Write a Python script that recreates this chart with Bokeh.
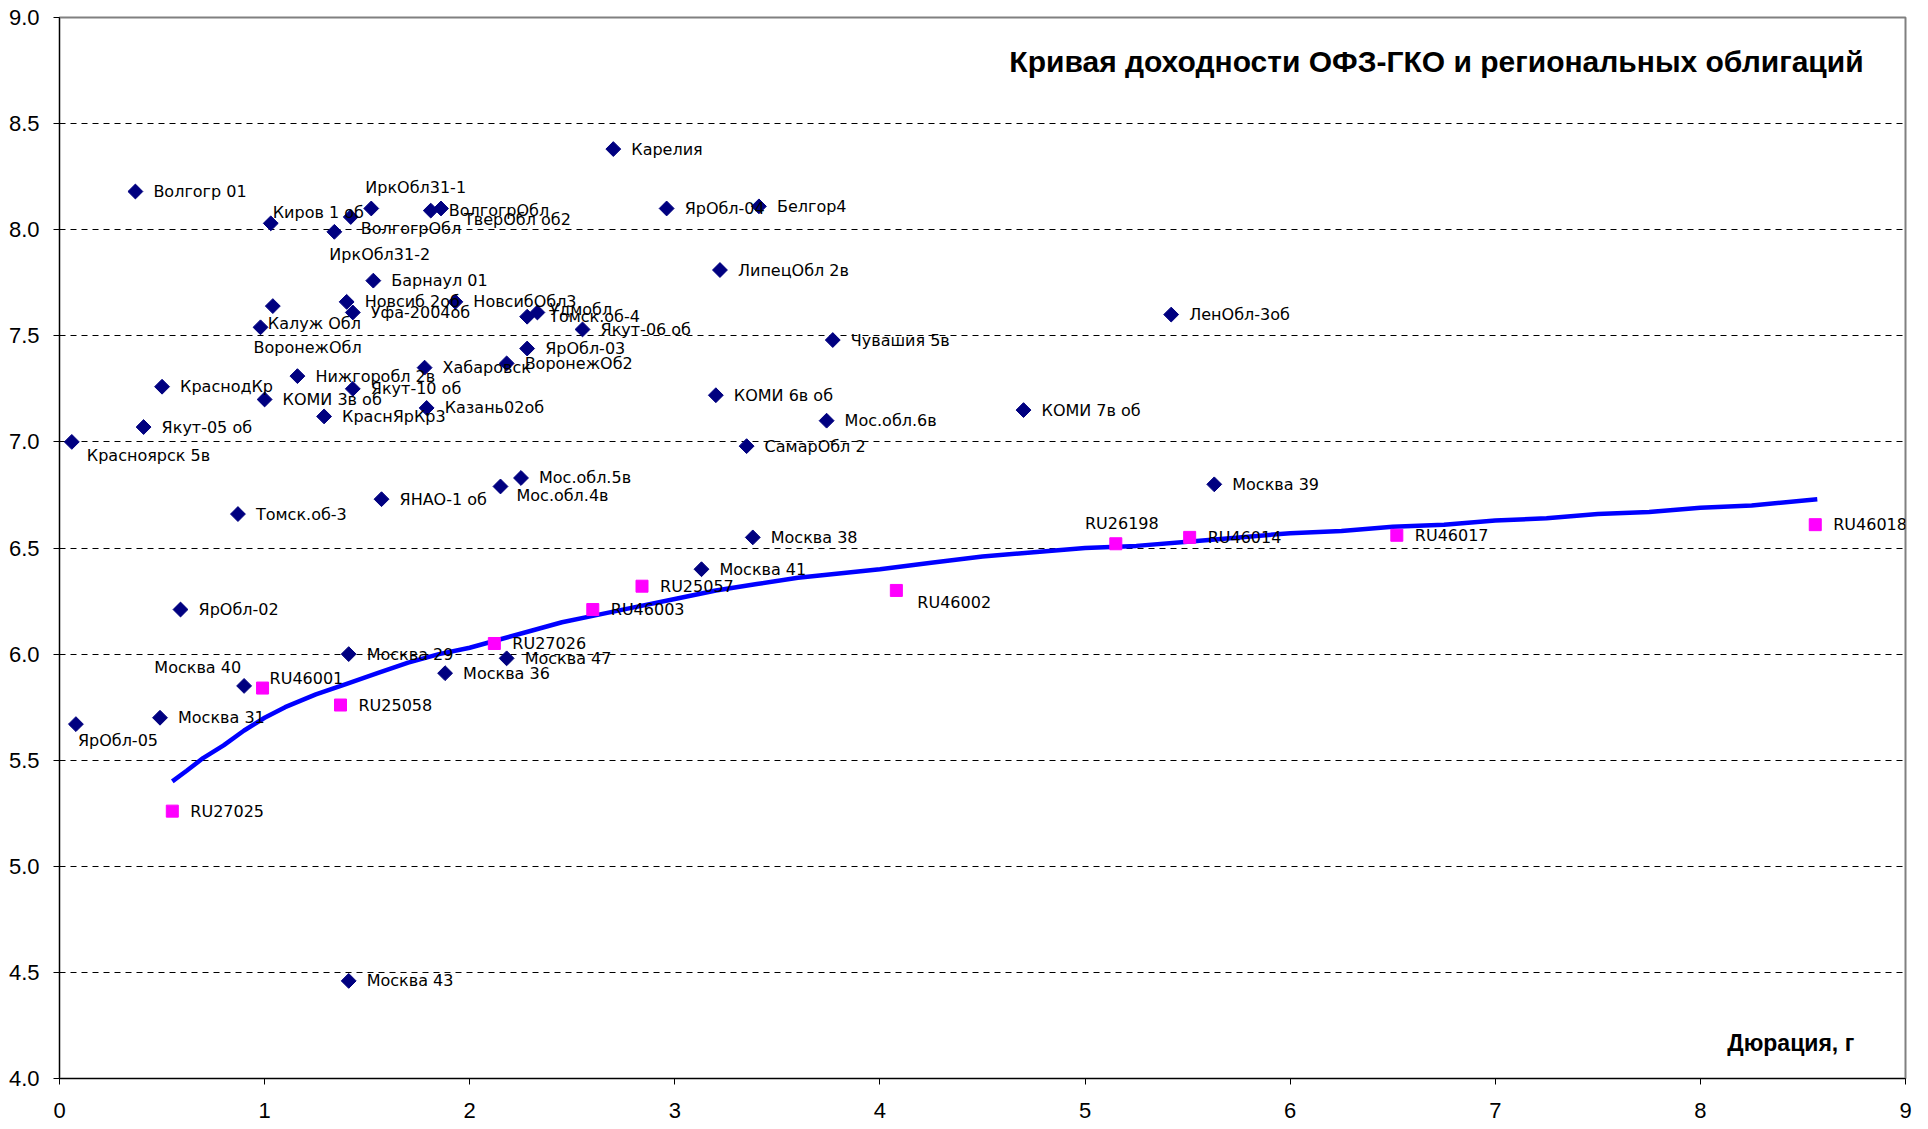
import numpy as np
from bokeh.plotting import figure
from bokeh.models import ColumnDataSource, FixedTicker, NumeralTickFormatter, Label, Range1d
from bokeh.core.properties import value, field
from bokeh.embed import file_html
from bokeh.resources import INLINE

# ---------------- data ----------------
reg_names = ["Волгогр 01", "Киров 1 об", "ИркОбл31-1", "ВолгогрОбл", "ИркОбл31-2",
             "ВолгогрОбл", "ТверОбл об2", "Барнаул 01", "Новсиб 2об", "Уфа-2004об",
             "НовсибОбл3", "Калуж Обл", "ВоронежОбл", "Удмобл", "Томск.об-4",
             "Якут-06 об", "ЯрОбл-03", "ВоронежОб2", "Хабаровск", "Нижгоробл 2в",
             "КраснодКр", "КОМИ 3в об", "Якут-10 об", "КраснЯрКр3", "Казань02об",
             "Якут-05 об", "Красноярск 5в", "Томск.об-3", "ЯНАО-1 об", "Мос.обл.4в",
             "Мос.обл.5в", "СамарОбл 2", "Москва 38", "Москва 41", "ЯрОбл-02",
             "Москва 29", "Москва 47", "Москва 36", "Москва 40", "Москва 31",
             "ЯрОбл-05", "Москва 43", "Карелия", "ЯрОбл-04", "Белгор4",
             "ЛипецОбл 2в", "Чувашия 5в", "КОМИ 6в об", "Мос.обл.6в", "КОМИ 7в об",
             "ЛенОбл-3об", "Москва 39"]
reg_dur = [0.37, 1.03, 1.52, 1.42, 1.34,
           1.81, 1.86, 1.53, 1.40, 1.43,
           1.93, 1.04, 0.98, 2.33, 2.28,
           2.55, 2.28, 2.18, 1.78, 1.16,
           0.50, 1.00, 1.43, 1.29, 1.79,
           0.41, 0.06, 0.87, 1.57, 2.15,
           2.25, 3.35, 3.38, 3.13, 0.59,
           1.41, 2.18, 1.88, 0.90, 0.49,
           0.08, 1.41, 2.70, 2.96, 3.41,
           3.22, 3.77, 3.20, 3.74, 4.70,
           5.42, 5.63]
reg_yield = [8.18, 8.03, 8.10, 8.06, 7.99,
             8.09, 8.10, 7.76, 7.66, 7.61,
             7.66, 7.64, 7.54, 7.61, 7.59,
             7.53, 7.44, 7.37, 7.35, 7.31,
             7.26, 7.20, 7.25, 7.12, 7.16,
             7.07, 7.00, 6.66, 6.73, 6.79,
             6.83, 6.98, 6.55, 6.40, 6.21,
             6.00, 5.98, 5.91, 5.85, 5.70,
             5.67, 4.46, 8.38, 8.10, 8.11,
             7.81, 7.48, 7.22, 7.10, 7.15,
             7.60, 6.80]

ofz_names = ["RU27025", "RU46001", "RU25058", "RU27026", "RU46003", "RU25057",
             "RU46002", "RU26198", "RU46014", "RU46017", "RU46018"]
ofz_dur = [0.55, 0.99, 1.37, 2.12, 2.60, 2.84, 4.08, 5.15, 5.51, 6.52, 8.56]
ofz_yield = [5.26, 5.84, 5.76, 6.05, 6.21, 6.32, 6.30, 6.52, 6.55, 6.56, 6.61]

curve_dur = [0.55, 0.62, 0.70, 0.80, 0.90, 1.00, 1.10, 1.25, 1.40, 1.55, 1.70,
             1.85, 2.00, 2.15, 2.30, 2.45, 2.60, 2.80, 3.00, 3.20, 3.40, 3.60,
             3.80, 4.00, 4.25, 4.50, 4.75, 5.00, 5.25, 5.50, 5.75, 6.00, 6.25,
             6.50, 6.75, 7.00, 7.25, 7.50, 7.75, 8.00, 8.25, 8.57]
curve_yield = [5.40, 5.45, 5.51, 5.57, 5.64, 5.70, 5.75, 5.81, 5.86, 5.91, 5.96,
               6.00, 6.03, 6.07, 6.11, 6.15, 6.18, 6.22, 6.26, 6.30, 6.33, 6.36,
               6.38, 6.40, 6.43, 6.46, 6.48, 6.50, 6.51, 6.53, 6.55, 6.57, 6.58,
               6.60, 6.61, 6.63, 6.64, 6.66, 6.67, 6.69, 6.70, 6.73]

y_ticks = [4.0, 4.5, 5.0, 5.5, 6.0, 6.5, 7.0, 7.5, 8.0, 8.5, 9.0]
x_ticks = [0, 1, 2, 3, 4, 5, 6, 7, 8, 9]

title_text = "Кривая доходности ОФЗ-ГКО и региональных облигаций"
y_title = "%"
x_title = "Дюрация, г"

# ---------------- label placement (screen px: dx, dy down, align) ----------------
DEFAULT_POS = (18, 0, "left")
reg_pos = {
    1: (2, -11, "left"),
    2: (-6, -21, "left"),
    3: (10, 12, "left"),
    4: (-5, 23, "left"),
    6: (23, 11, "left"),
    11: (-5, 17, "left"),
    12: (-7, 20, "left"),
    13: (12, -3, "left"),
    14: (22, 0, "left"),
    26: (15, 14, "left"),
    29: (16, 9, "left"),
    38: (-3, -18, "right"),
    40: (2, 16, "left"),
}
ofz_pos = {
    1: (7, -10, "left"),
    6: (21, 12, "left"),
    7: (6, -20, "center"),
}

def placements(n, special):
    dx, dy, al = [], [], []
    for i in range(n):
        a, b, c = special.get(i, DEFAULT_POS)
        dx.append(a); dy.append(b); al.append(c)
    return dx, dy, al

rdx, rdy, ral = placements(len(reg_names), reg_pos)
odx, ody, oal = placements(len(ofz_names), ofz_pos)

reg_src = ColumnDataSource(dict(x=reg_dur, y=reg_yield, name=reg_names, dx=rdx, dy=rdy, align=ral))
ofz_src = ColumnDataSource(dict(x=ofz_dur, y=ofz_yield, name=ofz_names, dx=odx, dy=ody, align=oal))
curve_src = ColumnDataSource(dict(x=curve_dur, y=curve_yield))

# ---------------- figure ----------------
p = figure(width=1920, height=1129, output_backend="svg", toolbar_location=None,
           x_range=Range1d(0, 9), y_range=Range1d(4, 9),
           min_border_left=59, min_border_right=15, min_border_top=17, min_border_bottom=51)
p.background_fill_color = "white"
p.border_fill_color = "white"
p.outline_line_color = "#808080"
p.outline_line_width = 2

p.xgrid.visible = False
p.ygrid.ticker = FixedTicker(ticks=y_ticks)
p.ygrid.grid_line_color = "black"
p.ygrid.grid_line_dash = "6 5"
p.ygrid.grid_line_width = 1

for ax in (p.xaxis, p.yaxis):
    ax.axis_line_color = "black"
    ax.axis_line_width = 1
    ax.major_tick_line_color = "black"
    ax.major_tick_out = 6
    ax.major_tick_in = 0
    ax.minor_tick_line_color = None
    ax.major_label_text_font = "Liberation Sans"
    ax.major_label_text_font_size = "22px"
    ax.major_label_text_color = "black"

p.yaxis.ticker = FixedTicker(ticks=y_ticks)
p.yaxis.formatter = NumeralTickFormatter(format="0.0")
p.yaxis.major_label_standoff = 14
p.xaxis.ticker = FixedTicker(ticks=x_ticks)
p.xaxis.major_label_standoff = 18

# curve
p.line(x="x", y="y", source=curve_src, line_color="#0000FF", line_width=4.5)

# regional bonds
p.scatter(x="x", y="y", source=reg_src, marker="square", angle=np.pi / 4,
          size=10.5, fill_color="#000080", line_color="#000080")
# OFZ
p.scatter(x="x", y="y", source=ofz_src, marker="square", size=12,
          fill_color="#FF00FF", line_color="#FF00FF")

text_kw = dict(x_offset="dx", y_offset="dy", text_align=field("align"),
               text_baseline="middle", text_font=value("DejaVu Sans"),
               text_font_size="16px", text_color="black")
p.text(x="x", y="y", text="name", source=reg_src, **text_kw)
p.text(x="x", y="y", text="name", source=ofz_src, **text_kw)

p.add_layout(Label(x=8.796, y=8.793, text=title_text, text_align="right", text_baseline="middle",
                   text_font="Liberation Sans", text_font_style="bold", text_font_size="30px",
                   text_color="black"))
p.add_layout(Label(x=-0.2, y=8.76, text=y_title, text_align="left", text_baseline="middle",
                   text_font="Liberation Sans", text_font_style="bold", text_font_size="23px",
                   text_color="black"))
p.add_layout(Label(x=8.75, y=4.165, text=x_title, text_align="right", text_baseline="middle",
                   text_font="Liberation Sans", text_font_style="bold", text_font_size="23px",
                   text_color="black"))

open("out.html", "w").write(file_html(p, INLINE))
